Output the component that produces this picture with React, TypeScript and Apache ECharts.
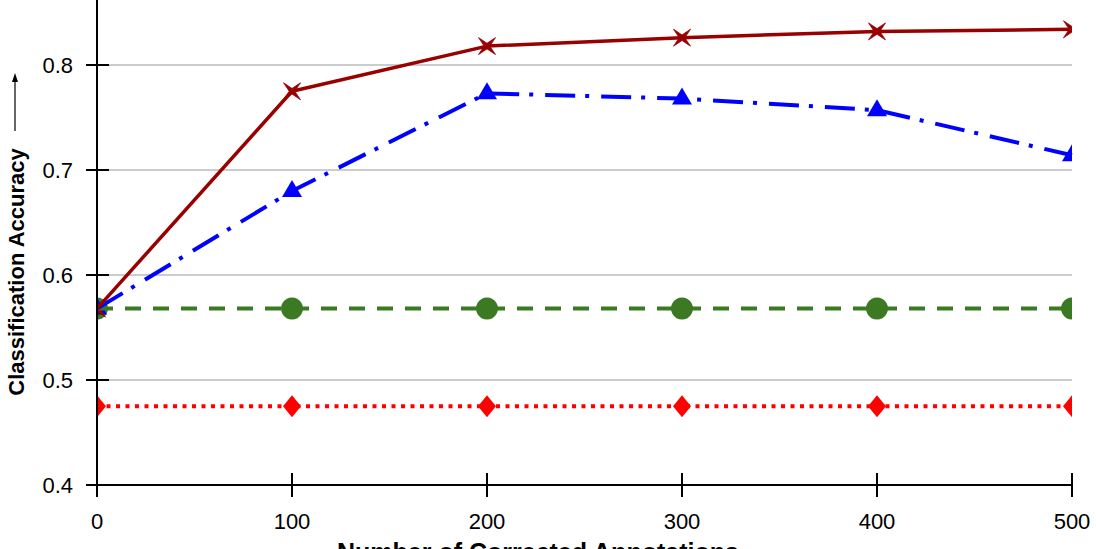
import React, { useEffect, useRef } from "react";
import * as echarts from "echarts";

const xValues = [0, 100, 200, 300, 400, 500];
const darkRedValues = [0.568, 0.775, 0.818, 0.826, 0.832, 0.834];
const blueValues = [0.568, 0.68, 0.773, 0.768, 0.757, 0.714];
const greenValues = [0.568, 0.568, 0.568, 0.568, 0.568, 0.568];
const redValues = [0.475, 0.475, 0.475, 0.475, 0.475, 0.475];
const seriesNames = ["Corrected (star)", "Corrected (triangle)", "Baseline (circle)", "Baseline (diamond)"];
const xAxisRange = [0, 500];
const xTickStep = 100;
const yAxisRange = [0.4, 0.9];
const yTickStep = 0.1;
const xTitle = "Number of Corrected Annotations";
const yTitle = "Classification Accuracy";

const FONT = "'Liberation Sans', Arial, Helvetica, sans-serif";

type ShapeFn = (cx: number, cy: number, color: string) => any;

const starShape: ShapeFn = (cx, cy, color) => ({
  type: "polygon",
  shape: {
    points: [
      [cx - 8.5, cy - 8.5], [cx, cy - 2.8], [cx + 8.5, cy - 8.5], [cx + 2.8, cy],
      [cx + 8.5, cy + 8.5], [cx, cy + 2.8], [cx - 8.5, cy + 8.5], [cx - 2.8, cy],
    ],
  },
  style: { fill: color, stroke: color, lineWidth: 0.8 },
});
const triangleShape: ShapeFn = (cx, cy, color) => ({
  type: "polygon",
  shape: { points: [[cx, cy - 11], [cx + 10, cy + 6], [cx - 10, cy + 6]] },
  style: { fill: color },
});
const circleShape: ShapeFn = (cx, cy, color) => ({
  type: "circle",
  shape: { cx, cy, r: 11 },
  style: { fill: color },
});
const diamondShape: ShapeFn = (cx, cy, color) => ({
  type: "polygon",
  shape: { points: [[cx, cy - 11], [cx + 9, cy], [cx, cy + 11], [cx - 9, cy]] },
  style: { fill: color },
});

function pairs(values: number[]) {
  return xValues.map((x, i) => [x, values[i]]);
}

function lineSeries(name: string, values: number[], color: string, type: any, width: number) {
  return {
    name,
    type: "line",
    data: pairs(values),
    showSymbol: false,
    symbol: "none",
    clip: true,
    lineStyle: { color, width, type, cap: "butt" },
    z: 2,
  };
}

function markerSeries(name: string, values: number[], color: string, shape: ShapeFn) {
  return {
    name,
    type: "custom",
    coordinateSystem: "cartesian2d",
    clip: true,
    data: pairs(values),
    renderItem: (params: any, api: any) => {
      const p = api.coord([api.value(0), api.value(1)]);
      return shape(p[0], p[1], color);
    },
    z: 2,
  };
}

export default function App() {
  const ref = useRef<HTMLDivElement>(null);
  useEffect(() => {
    if (!ref.current) return;
    const chart = echarts.init(ref.current, undefined, { renderer: "svg" });
    const labelStyle = { color: "#000", fontSize: 22, fontFamily: FONT };
    chart.setOption({
      animation: false,
      backgroundColor: "#fff",
      grid: {
        left: 97,
        right: 24,
        top: -40,
        bottom: 64,
        containLabel: false,
        outerBoundsMode: "none",
      },
      xAxis: [
        {
          type: "value",
          min: xAxisRange[0],
          max: xAxisRange[1],
          interval: xTickStep,
          position: "bottom",
          z: 5,
          axisLine: { show: true, onZero: false, lineStyle: { color: "#000", width: 2 } },
          axisTick: { show: true, inside: false, length: 12, lineStyle: { color: "#000", width: 2 } },
          axisLabel: { ...labelStyle, margin: 25 },
          splitLine: { show: false },
        },
        {
          type: "value",
          min: xAxisRange[0],
          max: xAxisRange[1],
          interval: xTickStep,
          position: "bottom",
          z: 5,
          axisLine: { show: false, onZero: false },
          axisTick: { show: true, inside: true, length: 12, lineStyle: { color: "#000", width: 2 } },
          axisLabel: { show: false },
          splitLine: { show: false },
        },
      ],
      yAxis: [
        {
          type: "value",
          min: yAxisRange[0],
          max: yAxisRange[1],
          interval: yTickStep,
          position: "left",
          z: 0,
          axisLine: { show: false, onZero: false },
          axisTick: { show: true, inside: false, length: 11, lineStyle: { color: "#000", width: 2 } },
          axisLabel: {
            ...labelStyle,
            margin: 24,
            showMaxLabel: false,
            formatter: (v: number) => v.toFixed(1),
          },
          splitLine: { show: true, showMinLine: false, lineStyle: { color: "#cccccc", width: 2 } },
        },
        {
          type: "value",
          min: yAxisRange[0],
          max: yAxisRange[1],
          interval: yTickStep,
          position: "left",
          z: 5,
          axisLine: { show: true, onZero: false, lineStyle: { color: "#000", width: 2 } },
          axisTick: { show: true, inside: true, length: 12, lineStyle: { color: "#000", width: 2 } },
          axisLabel: { show: false },
          splitLine: { show: false },
        },
      ],
      series: [
        lineSeries(seriesNames[3], redValues, "#ff0000", [4, 5.5], 4),
        markerSeries(seriesNames[3], redValues, "#ff0000", diamondShape),
        lineSeries(seriesNames[2], greenValues, "#3b7a23", [16, 12], 4),
        markerSeries(seriesNames[2], greenValues, "#3b7a23", circleShape),
        lineSeries(seriesNames[1], blueValues, "#0000ff", [30, 10, 4, 12], 4),
        markerSeries(seriesNames[1], blueValues, "#0000ff", triangleShape),
        lineSeries(seriesNames[0], darkRedValues, "#990000", "solid", 3.5),
        markerSeries(seriesNames[0], darkRedValues, "#990000", starShape),
      ],
      graphic: [
        {
          type: "text",
          x: 16,
          y: 272,
          rotation: Math.PI / 2,
          style: {
            text: yTitle,
            fill: "#000",
            font: `bold 22px ${FONT}`,
            textAlign: "center",
            textVerticalAlign: "middle",
          },
        },
        {
          type: "line",
          shape: { x1: 15, y1: 131, x2: 15, y2: 80 },
          style: { stroke: "#000", lineWidth: 1.2 },
        },
        {
          type: "polygon",
          shape: { points: [[15, 73], [12, 82], [18, 82]] },
          style: { fill: "#000" },
        },
        {
          type: "text",
          x: 337,
          y: 552,
          style: {
            text: xTitle,
            fill: "#000",
            font: `bold 25px ${FONT}`,
            textAlign: "left",
            textVerticalAlign: "middle",
          },
        },
      ],
    });
    return () => chart.dispose();
  }, []);
  return (
    <div
      ref={ref}
      style={{ position: "absolute", left: 0, top: 0, width: 1096, height: 549 }}
    />
  );
}
